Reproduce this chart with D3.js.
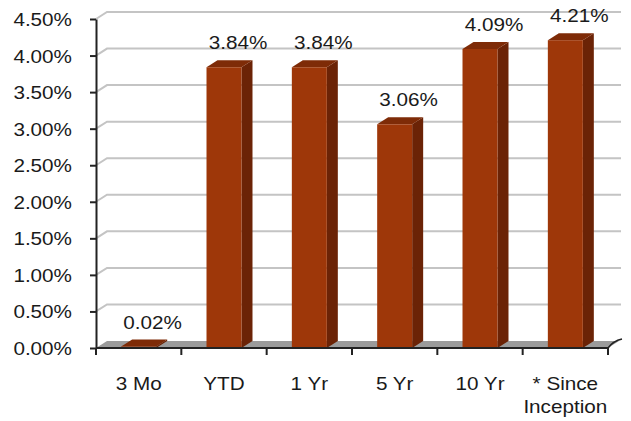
<!DOCTYPE html>
<html>
<head>
<meta charset="utf-8">
<script src="https://cdn.jsdelivr.net/npm/d3@7/dist/d3.min.js"></script>
<style>
  body { margin: 0; background: #fff; }
  text { font-family: "Liberation Sans", Arial, sans-serif; fill: #1a1a1a; }
</style>
</head>
<body>
<svg id="chart" width="631" height="421"></svg>
<script>
/*global d3 */
var categories = ["3 Mo", "YTD", "1 Yr", "5 Yr", "10 Yr", "* Since\nInception"];
var returns = [0.02, 3.84, 3.84, 3.06, 4.09, 4.21];
var yTicks = [0, 0.5, 1, 1.5, 2, 2.5, 3, 3.5, 4, 4.5];

var svg = d3.select("#chart");
var plotLeft = 96, plotRight = 608, plotTop = 19, plotBottom = 348;
var DX = 11, DY = -7;   // depth of the 3d box
var SX = 1.15;          // text in the picture is a bit stretched sideways

var x = d3.scaleBand().domain(categories).range([plotLeft, plotRight])
        .paddingInner(0.59).paddingOuter(0.295);
var y = d3.scaleLinear().domain([0, 4.5]).range([plotBottom, plotTop]);

// back wall gridlines
svg.append("g").selectAll("path").data(yTicks.slice(1)).enter().append("path")
    .attr("d", function (d) {
        return "M" + plotLeft + "," + y(d) + "L" + (plotLeft + DX) + "," + (y(d) + DY) +
            "H" + (plotRight + DX + 2);
    })
    .attr("fill", "none")
    .attr("stroke", "#c4c4c4")
    .attr("stroke-width", 2);

// floor
svg.append("path")
    .attr("d", "M" + plotLeft + "," + plotBottom + "L" + (plotLeft + DX) + "," + (plotBottom + DY) +
        "H" + (plotRight + DX) + "L" + plotRight + "," + plotBottom + "Z")
    .attr("fill", "#9b9b9b");
svg.append("path")
    .attr("d", "M" + plotRight + "," + plotBottom + "Q" + (plotRight + 5) + "," + (plotBottom + DY) +
        " " + (plotRight + DX + 3) + "," + (plotBottom + DY - 2))
    .attr("fill", "none")
    .attr("stroke", "#222")
    .attr("stroke-width", 1.5);

// bars
var bw = x.bandwidth();
var bars = svg.append("g").selectAll("g").data(returns).enter().append("g");
bars.append("path")
    .attr("d", function (d, i) {
        var x0 = x(categories[i]) + bw, t = y(d);
        return "M" + x0 + "," + t + "L" + (x0 + DX) + "," + (t + DY) +
            "V" + (plotBottom + DY) + "L" + x0 + "," + plotBottom + "Z";
    })
    .attr("fill", "#6b2306");
bars.append("path")
    .attr("d", function (d, i) {
        var x0 = x(categories[i]), t = y(d);
        return "M" + x0 + "," + t + "L" + (x0 + DX) + "," + (t + DY) +
            "H" + (x0 + bw + DX) + "L" + (x0 + bw) + "," + t + "Z";
    })
    .attr("fill", "#7e2b07");
bars.append("rect")
    .attr("x", function (d, i) { return x(categories[i]); })
    .attr("y", function (d) { return y(d); })
    .attr("width", bw)
    .attr("height", function (d) { return plotBottom - y(d); })
    .attr("fill", "#9e3709");

// value labels
bars.append("text")
    .attr("transform", function (d, i) {
        return "translate(" + (x(categories[i]) + bw / 2 + 14) + "," + (y(d) - 18) + ") scale(" + SX + ",1)";
    })
    .attr("text-anchor", "middle")
    .attr("font-size", 18)
    .text(function (d) { return d.toFixed(2) + "%"; });

// y axis
var yAxis = svg.append("g")
    .attr("transform", "translate(" + plotLeft + ",0)")
    .call(d3.axisLeft(y).tickValues(yTicks).tickSize(6).tickSizeOuter(0)
        .tickFormat(function (d) { return d.toFixed(2) + "%"; }));
yAxis.select(".domain").attr("stroke", "#222").attr("stroke-width", 2);
yAxis.selectAll(".tick line").attr("stroke", "#222").attr("stroke-width", 2);
yAxis.selectAll(".tick text")
    .attr("font-size", 18)
    .attr("font-family", "Liberation Sans, Arial, sans-serif")
    .attr("fill", "#1a1a1a")
    .attr("x", -24 / SX)
    .attr("dy", "0.36em")
    .attr("transform", "scale(" + SX + ",1)");

// x axis line and ticks at band edges
svg.append("line")
    .attr("x1", plotLeft).attr("x2", plotRight)
    .attr("y1", plotBottom).attr("y2", plotBottom)
    .attr("stroke", "#222").attr("stroke-width", 2);
var edges = categories.map(function (c) { return x(c) - x.step() * x.paddingInner() / 2; });
edges.push(plotRight);
svg.append("g").selectAll("line").data(edges).enter().append("line")
    .attr("x1", function (d) { return d; }).attr("x2", function (d) { return d; })
    .attr("y1", plotBottom).attr("y2", plotBottom + 7)
    .attr("stroke", "#222").attr("stroke-width", 2);

// category labels
var cat = svg.append("g").selectAll("text").data(categories).enter().append("text")
    .attr("transform", function (d) {
        return "translate(" + (x(d) + bw / 2) + ",390) scale(" + SX + ",1)";
    })
    .attr("text-anchor", "middle")
    .attr("font-size", 18);
cat.selectAll("tspan").data(function (d) { return d.split("\n"); }).enter().append("tspan")
    .attr("x", 0)
    .attr("y", function (d, i) { return i * 23; })
    .text(function (d) { return d; });
</script>
</body>
</html>
